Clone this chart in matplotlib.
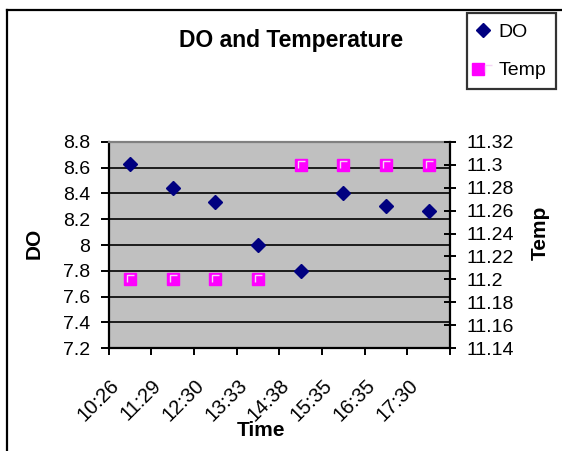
import numpy as np
import matplotlib
matplotlib.use("Agg")
import matplotlib.pyplot as plt
from matplotlib.lines import Line2D
from matplotlib.path import Path
from matplotlib.transforms import ScaledTranslation
from matplotlib.legend_handler import HandlerTuple

plt.rcParams['font.family'] = ['Liberation Sans', 'DejaVu Sans']

# ---- data ----
times = ["10:26", "11:29", "12:30", "13:33", "14:38", "15:35", "16:35", "17:30"]
do_vals = [8.63, 8.44, 8.33, 8.00, 7.80, 8.40, 8.30, 8.26]
temp_vals = [11.20, 11.20, 11.20, 11.20, 11.30, 11.30, 11.30, 11.30]
do_ticks = [7.2, 7.4, 7.6, 7.8, 8.0, 8.2, 8.4, 8.6, 8.8]
do_tick_labels = ["7.2", "7.4", "7.6", "7.8", "8", "8.2", "8.4", "8.6", "8.8"]
temp_ticks = [11.14, 11.16, 11.18, 11.20, 11.22, 11.24, 11.26, 11.28, 11.30, 11.32]
temp_tick_labels = ["11.14", "11.16", "11.18", "11.2", "11.22", "11.24", "11.26", "11.28", "11.3", "11.32"]

W, H = 562, 451
fig = plt.figure(figsize=(W / 100, H / 100), dpi=100)

def fx(px):
    return px / W

def fy(py):
    return 1 - py / H

L, R, T, B = 108.5, 450, 141.7, 348.3
ax = fig.add_axes([fx(L), fy(B), (R - L) / W, (B - T) / H])
ax.set_facecolor('#C0C0C0')

x = np.arange(len(times))
ax.set_xlim(-0.5, len(times) - 0.5)
ax.set_ylim(7.2, 8.8)
ax.set_yticks(do_ticks)
ax.set_yticklabels(do_tick_labels)
ax.yaxis.grid(True, color='black', lw=1.2)
ax.set_axisbelow(True)

ax.set_xticks(x)
ax.set_xticklabels([])
ax.set_xticks(np.arange(-0.5, len(times)), minor=True)
ax.tick_params(axis='x', which='major', length=0)
ax.tick_params(axis='x', which='minor', direction='out', length=5, width=1.4, color='black')
ax.tick_params(axis='y', direction='out', length=6, width=1.4, labelsize=14, pad=7)

for s in ['left', 'right', 'bottom']:
    ax.spines[s].set_color('black')
    ax.spines[s].set_linewidth(1.6)
ax.spines['top'].set_color('#808080')
ax.spines['top'].set_linewidth(1.6)

ax2 = ax.twinx()
ax2.set_ylim(11.14, 11.32)
ax2.set_yticks(temp_ticks)
ax2.set_yticklabels(temp_tick_labels)
ax2.tick_params(axis='y', direction='inout', length=8, width=1.4, labelsize=14, pad=8)
for s in ['left', 'right', 'bottom', 'top']:
    ax2.spines[s].set_visible(False)

do_line, = ax.plot(x, do_vals, ls='none', marker='D', ms=7.2, color='#000080', zorder=5)
SQ = 8.8
sq_line, = ax2.plot(x, temp_vals, ls='none', marker='s', ms=SQ, mfc='#FF00FF', mec='#FF00FF', zorder=5)
gamma = Path([(-0.27, -0.25), (-0.27, 0.3), (0.3, 0.3)], [Path.MOVETO, Path.LINETO, Path.LINETO])
hl_line, = ax2.plot(x, temp_vals, ls='none', marker=gamma, ms=SQ * 0.6, mfc='none',
                    mec='#F4D4F4', mew=1.0, zorder=6)

# x tick labels (rotated, Excel-like placement)
xt = ax.get_xaxis_transform()
off = ScaledTranslation(-14 / 100, -34 / 100, fig.dpi_scale_trans)
for i, t in enumerate(times):
    ax.text(i, 0, t, transform=xt + off, rotation=45, rotation_mode='anchor',
            ha='right', va='center', fontsize=14.5)

# titles
fig.text(fx(291), fy(40), "DO and Temperature", ha='center', va='center', fontsize=16.5, fontweight='bold')
fig.text(fx(261), fy(431), "Time", ha='center', va='center', fontsize=15, fontweight='bold')
fig.text(fx(34), fy(243), "DO", ha='center', va='center', rotation=90, fontsize=15, fontweight='bold')
fig.text(fx(540), fy(233), "Temp", ha='center', va='center', rotation=90, fontsize=15, fontweight='bold')

# legend
leg = fig.legend([do_line, (sq_line, hl_line)], ["DO", "Temp"],
                 handler_map={tuple: HandlerTuple(ndivide=None)},
                 loc='upper left', bbox_to_anchor=(fx(467), fy(13)), borderaxespad=0,
                 fontsize=14, frameon=True, fancybox=False, shadow=False,
                 borderpad=0.52, labelspacing=1.08, handlelength=0.6, handletextpad=0.5)
leg.get_frame().set_edgecolor('black')
leg.get_frame().set_linewidth(1.6)
leg.get_frame().set_facecolor('white')

# outer chart border (left and top visible)
fig.add_artist(Line2D([fx(7), fx(7)], [fy(10), fy(H + 5)], color='black', lw=1.6, transform=fig.transFigure))
fig.add_artist(Line2D([fx(7), fx(W + 5)], [fy(10), fy(10)], color='black', lw=1.6, transform=fig.transFigure))

fig.savefig("out.png", dpi=100, facecolor='white')
